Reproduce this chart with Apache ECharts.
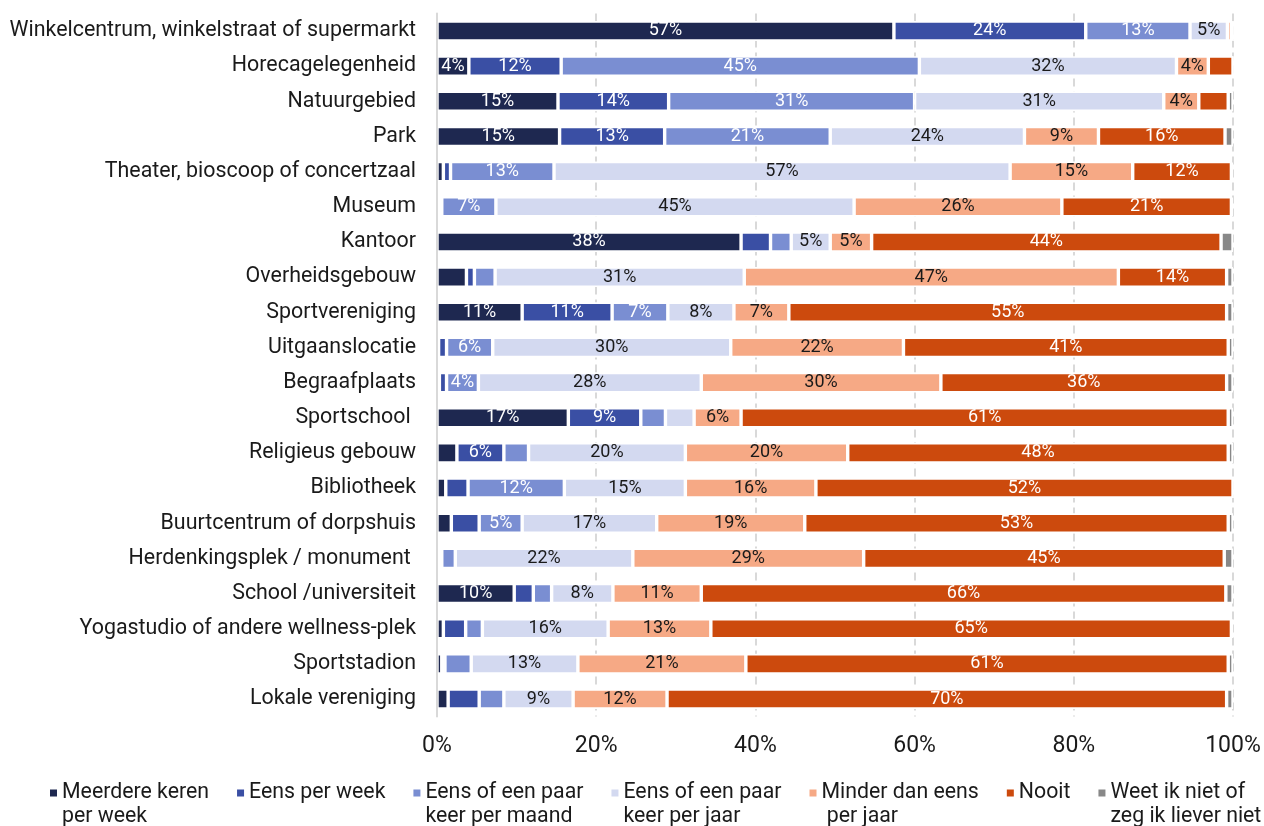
<!DOCTYPE html>
<html>
<head>
<meta charset="utf-8">
<script src="https://cdn.jsdelivr.net/npm/echarts@6/dist/echarts.min.js"></script>
<style>
html,body{margin:0;padding:0;background:#fff;}
#chart{width:1264px;height:826px;}
</style>
</head>
<body>
<div id="chart"></div>
<script>
var categories = ["Winkelcentrum, winkelstraat of supermarkt", "Horecagelegenheid", "Natuurgebied", "Park",
	"Theater, bioscoop of concertzaal", "Museum", "Kantoor", "Overheidsgebouw", "Sportvereniging",
	"Uitgaanslocatie", "Begraafplaats", "Sportschool ", "Religieus gebouw", "Bibliotheek",
	"Buurtcentrum of dorpshuis", "Herdenkingsplek / monument ", "School /universiteit",
	"Yogastudio of andere wellness-plek", "Sportstadion", "Lokale vereniging"];

var meerdere = [57.4, 4.0, 15.2, 15.4, 0.8, 0.3, 38.2, 3.7, 10.7, 0.2, 0.3, 16.5, 2.5, 1.1, 1.8, 0.3, 9.7, 0.8, 0.6, 1.4];
var eensWeek = [24.1, 11.6, 13.9, 13.2, 0.9, 0.3, 3.7, 1.0, 11.3, 1.0, 0.9, 9.1, 5.9, 2.8, 3.5, 0.3, 2.4, 2.8, 0.4, 3.9];
var perMaand = [13.1, 45.0, 30.9, 20.8, 13.0, 6.8, 2.6, 2.6, 7.0, 5.8, 4.0, 3.1, 3.1, 12.1, 5.4, 1.7, 2.3, 2.1, 3.3, 3.1];
var perJaar = [4.7, 32.3, 31.3, 24.4, 57.3, 45.0, 4.9, 31.3, 8.3, 29.9, 28.0, 3.6, 19.7, 15.2, 16.9, 22.3, 7.7, 15.8, 13.4, 8.7];
var minder = [0.5, 4.0, 4.4, 9.3, 15.4, 26.1, 5.2, 47.0, 6.9, 21.7, 30.1, 5.9, 20.4, 16.4, 18.6, 29.0, 11.1, 12.9, 21.1, 11.8];
var nooit = [0.2, 3.1, 3.7, 15.9, 12.4, 21.3, 43.9, 13.6, 55.0, 40.8, 35.9, 61.2, 47.8, 52.4, 53.2, 45.3, 65.9, 65.4, 60.6, 70.3];
var weetNiet = [0, 0, 0.6, 1.0, 0.2, 0.2, 1.5, 0.8, 0.8, 0.6, 0.8, 0.6, 0.6, 0, 0.6, 1.1, 0.9, 0.2, 0.6, 0.8];

var xTicks = [0, 20, 40, 60, 80, 100];

var seriesDefs = [
	{name: "Meerdere keren\nper week", data: meerdere, color: "#1e2850", text: "#ffffff"},
	{name: "Eens per week", data: eensWeek, color: "#3a4fa4", text: "#ffffff"},
	{name: "Eens of een paar\nkeer per maand", data: perMaand, color: "#7a8ed2", text: "#ffffff"},
	{name: "Eens of een paar\nkeer per jaar", data: perJaar, color: "#d3d9f0", text: "#1a1a1a"},
	{name: "Minder dan eens\n per jaar", data: minder, color: "#f6a985", text: "#1a1a1a"},
	{name: "Nooit", data: nooit, color: "#cc4a0d", text: "#ffffff"},
	{name: "Weet ik niet of\nzeg ik liever niet", data: weetNiet, color: "#888888", text: "#ffffff"}
];

var font = "Roboto";

var series = seriesDefs.map(function(s){
	return {
		name: s.name,
		type: 'bar',
		stack: 'total',
		barWidth: 20,
		data: s.data,
		itemStyle: {color: s.color, borderColor: '#ffffff', borderWidth: 1.7},
		label: {
			show: true,
			position: 'inside',
			color: s.text,
			fontFamily: font,
			fontSize: 18,
			formatter: function(p){
				return p.value >= 4 ? Math.round(p.value) + '%' : '';
			}
		}
	};
});

var myChart = echarts.init(document.getElementById('chart'));
myChart.setOption({
	animation: false,
	textStyle: {fontFamily: font},
	grid: {left: 437, right: 31, top: 13.4, bottom: 109.4, containLabel: false},
	legend: {
		data: seriesDefs.map(function(s){ return s.name; }),
		left: 50,
		top: 781,
		padding: 0,
		itemGap: 28,
		itemWidth: 7,
		itemHeight: 31,
		// square at the top of a tall box, so it lines up with the first text line
		icon: 'path://M0,0L7,0L7,7L0,7Z M0,31L0.01,31',
		itemStyle: {borderWidth: 0},
		formatter: function(name){
			return name.indexOf('\n') >= 0 ? name : name + '\n ';
		},
		textStyle: {fontFamily: font, fontSize: 21.3, color: '#1a1a1a', lineHeight: 24}
	},
	xAxis: {
		type: 'value',
		min: xTicks[0],
		max: xTicks[xTicks.length - 1],
		interval: xTicks[1] - xTicks[0],
		axisLine: {show: false},
		axisTick: {show: false},
		axisLabel: {
			formatter: '{value}%',
			fontFamily: font,
			fontSize: 23,
			color: '#1a1a1a',
			margin: 18
		},
		splitLine: {
			show: true,
			lineStyle: {color: '#d9d9d9', width: 2, type: [8, 5]}
		}
	},
	yAxis: {
		type: 'category',
		inverse: true,
		data: categories,
		z: 5,
		axisLine: {show: true, lineStyle: {color: '#d9d9d9', width: 2}},
		axisTick: {show: false},
		axisLabel: {fontFamily: font, fontSize: 21.4, color: '#1a1a1a', margin: 21}
	},
	series: series
});
</script>
</body>
</html>
